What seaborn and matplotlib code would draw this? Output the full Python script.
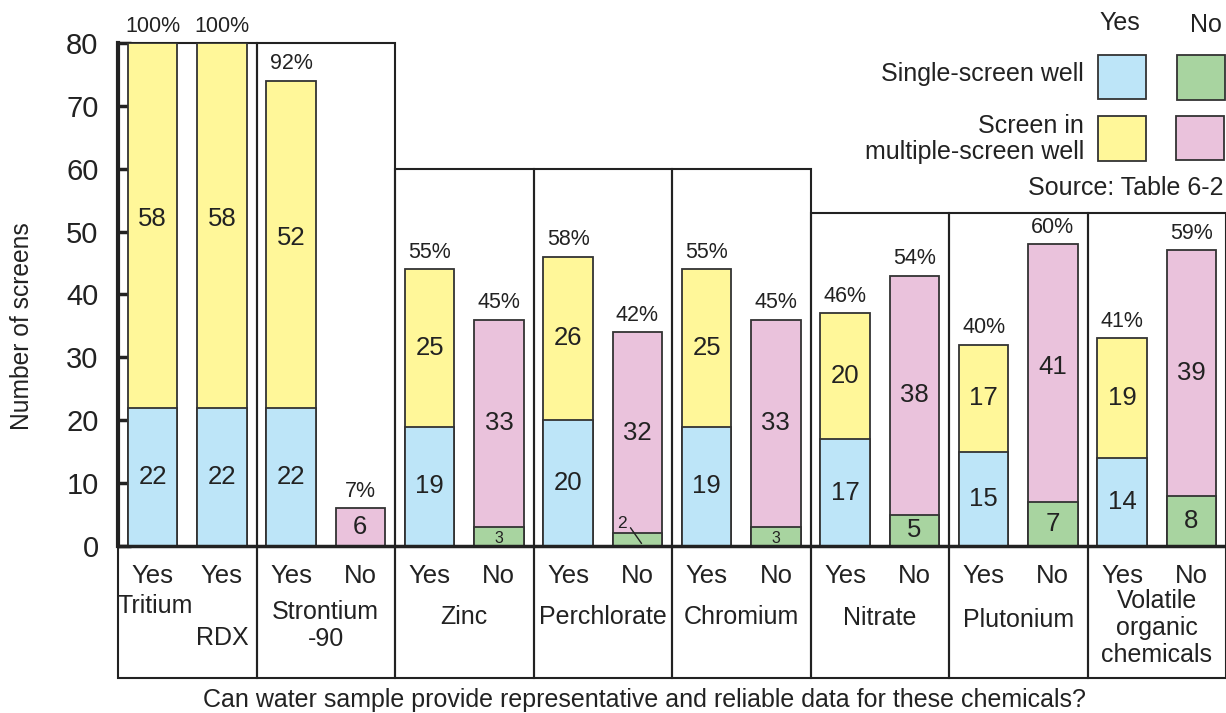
import numpy as np
import pandas as pd
import seaborn as sns
import matplotlib.pyplot as plt
from matplotlib.patches import Rectangle
from matplotlib.lines import Line2D

# one entry per bar, left to right
answers = ["Yes", "Yes", "Yes", "No", "Yes", "No", "Yes", "No",
           "Yes", "No", "Yes", "No", "Yes", "No", "Yes", "No"]
single = [22, 22, 22, 0, 19, 3, 20, 2, 19, 3, 17, 5, 15, 7, 14, 8]
multiple = [58, 58, 52, 6, 25, 33, 26, 32, 25, 33, 20, 38, 17, 41, 19, 39]
percents = ["100%", "100%", "92%", "7%", "55%", "45%", "58%", "42%",
            "55%", "45%", "46%", "54%", "40%", "60%", "41%", "59%"]

# chemical groups: (first bar, last bar, box top)
group_names = ["Tritium", "RDX", "Strontium\n-90", "Zinc", "Perchlorate",
               "Chromium", "Nitrate", "Plutonium",
               "Volatile\norganic\nchemicals"]
boxes = [(0, 1, 80), (2, 3, 80), (4, 5, 60), (6, 7, 60), (8, 9, 60),
         (10, 11, 53), (12, 13, 53), (14, 15, 53)]

BLUE = "#bde5f8"
GREEN = "#a8d4a0"
YELLOW = "#fff799"
PINK = "#eac2dc"
EDGE = "#333333"

df = pd.DataFrame({
    "pos": np.arange(len(answers)),
    "answer": answers,
    "single": single,
    "multiple": multiple,
})
df["total"] = df["single"] + df["multiple"]

sns.set_theme(style="white")
plt.rcParams["font.family"] = ["Liberation Sans", "DejaVu Sans"]
plt.rcParams["text.color"] = "#222222"

fig = plt.figure(figsize=(12.26, 7.13), dpi=100)
ax = fig.add_axes([118 / 1226, 35 / 713, 1 - 118 / 1226, 635 / 713])
ybot = -21

# stacked bars: total (multiple-screen colour) then single-screen over it
sns.barplot(data=df, x="pos", y="total", hue="answer",
            palette={"Yes": YELLOW, "No": PINK}, native_scale=True,
            dodge=False, width=0.715, errorbar=None, legend=False,
            saturation=1, edgecolor=EDGE, linewidth=1.3, ax=ax)
sns.barplot(data=df[df["single"] > 0], x="pos", y="single", hue="answer",
            palette={"Yes": BLUE, "No": GREEN}, native_scale=True,
            dodge=False, width=0.715, errorbar=None, legend=False,
            saturation=1, edgecolor=EDGE, linewidth=1.3, ax=ax)

ax.set_xlim(-0.5, len(answers) - 0.5)
ax.set_ylim(ybot, 80)
ax.set_xticks([])
ax.set_yticks(range(0, 81, 10))
ax.tick_params(axis="y", direction="in", length=9, width=2.5,
               labelsize=21, pad=14, colors="#222222", left=True)
for s in ["top", "right", "bottom"]:
    ax.spines[s].set_visible(False)
ax.spines["left"].set_bounds(0, 80)
ax.spines["left"].set_linewidth(3)
ax.spines["left"].set_color("#222222")
ax.set_xlabel("")
ax.set_ylabel("")
ax.patch.set_alpha(0)

# group boxes
for a, b, top in boxes:
    ax.add_patch(Rectangle((a - 0.5, ybot), b - a + 1, top - ybot,
                           fill=False, edgecolor="#222222", lw=1.5,
                           clip_on=False, zorder=0))
ax.plot([-0.5, len(answers) - 0.5], [0, 0], color="#222222", lw=2.5,
        clip_on=False, zorder=5)

# labels in bars and percentages
for i, row in df.iterrows():
    s, m, t = row["single"], row["multiple"], row["total"]
    if s >= 5:
        ax.text(i, s / 2, str(s), ha="center", va="center", fontsize=18.5)
    elif s == 3:
        ax.text(i, s / 2 - 0.3, str(s), ha="center", va="center",
                fontsize=11.5)
    ax.text(i, s + m / 2 + (1 if m > 40 else 0), str(m), ha="center",
            va="center", fontsize=18.5)
    ax.text(i, t + 1.0, percents[i], ha="center", va="bottom",
            fontsize=15.5, clip_on=False)
    ax.text(i, -4.8, row["answer"], ha="center", va="center", fontsize=18.5)

# the small "2" with its leader line
ax.text(7 - 0.22, 3.6, "2", ha="center", va="center", fontsize=12.5)
ax.add_line(Line2D([7 - 0.1, 7 + 0.06], [2.9, 0.4], color="#222222", lw=1))

# group names
ax.text(0.04, -9.5, group_names[0], ha="center", va="center", fontsize=18)
ax.text(1.0, -14.6, group_names[1], ha="center", va="center", fontsize=18)
name_y = [-12.7, -11.3, -11.3, -11.3, -11.4, -11.8, -13.0]
for (a, b, top), name, yy in zip(boxes[1:], group_names[2:], name_y):
    ax.text((a + b) / 2, yy, name, ha="center", va="center", fontsize=18,
            linespacing=1.15)

# axis titles
fig.text(22 / 1226, 1 - 326 / 713, "Number of screens", rotation=90,
         ha="center", va="center", fontsize=17.7)
fig.text(644 / 1226, 1 - 700 / 713,
         "Can water sample provide representative and reliable data for these chemicals?",
         ha="center", va="center", fontsize=18)

# legend grid
W, H = 1226, 713


def fbox(x0, y0, x1, y1, color):
    fig.add_artist(Rectangle((x0 / W, 1 - y1 / H), (x1 - x0) / W,
                             (y1 - y0) / H, facecolor=color,
                             edgecolor=EDGE, lw=1.3,
                             transform=fig.transFigure))


fbox(1098, 55, 1146, 99, BLUE)
fbox(1177, 55, 1225, 100, GREEN)
fbox(1098, 116, 1146, 161, YELLOW)
fbox(1176, 116, 1224, 160, PINK)
fig.text(1120 / W, 1 - 23 / H, "Yes", ha="center", va="center", fontsize=18)
fig.text(1206 / W, 1 - 25 / H, "No", ha="center", va="center", fontsize=18)
fig.text(1084 / W, 1 - 74 / H, "Single-screen well", ha="right",
         va="center", fontsize=18)
fig.text(1084 / W, 1 - 139 / H, "Screen in\nmultiple-screen well",
         ha="right", va="center", fontsize=18, multialignment="right",
         linespacing=1.15)
fig.text(1223 / W, 1 - 188 / H, "Source: Table 6-2", ha="right",
         va="center", fontsize=18)

fig.savefig("out.png", dpi=100)
